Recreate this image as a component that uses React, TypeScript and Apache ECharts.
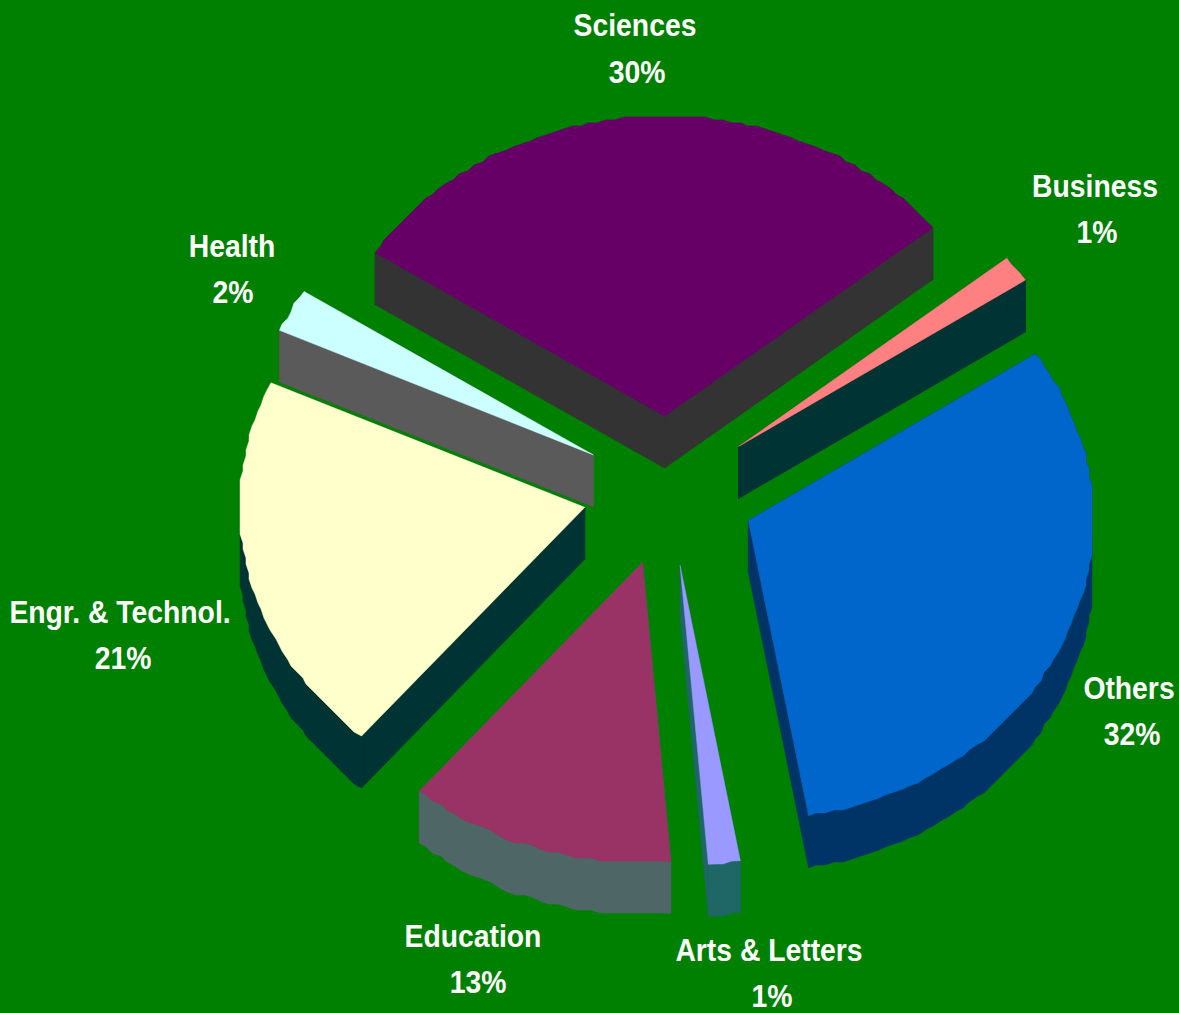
import React, { useEffect, useRef } from "react";
import * as echarts from "echarts";

const categories = ["Sciences", "Business", "Others", "Arts & Letters", "Education", "Engr. & Technol.", "Health"];
const shares = [30, 1.45, 31.55, 1.49, 12.5, 20.6, 2.35];
const topColors = ["#660066", "#FF8080", "#0066CC", "#9999FF", "#993366", "#FFFFCC", "#CCFFFF"];
const sideColors = ["#333333", "#003333", "#003366", "#1F6666", "#4F6666", "#003333", "#5A5A5A"];
const nameAnchors = [[635, 25], [1095, 186], [1129, 688], [769, 950], [473, 936], [120, 612], [232, 246]];
const pctAnchors = [[637, 72], [1097, 232], [1132, 734], [772, 996], [478, 982], [123, 658], [233, 292]];

const CX = 669, CY = 491, RX = 345, RY = 300, DEPTH = 52, EXPLODE = 0.25, START = -57;
const RIM_GRID = 3;
const BG = "#008000";
const total = shares.reduce((a, b) => a + b, 0);
const FONT = 'bold 32px "Liberation Sans", Arial, sans-serif';
const TEXT_SCALE_X = 0.885;

function renderItem(params: any, api: any) {
  const i = params.dataIndex;
  const value = api.value(0);
  const before = shares.slice(0, i).reduce((a, b) => a + b, 0);
  const a0 = START + (before / total) * 360;
  const a1 = a0 + (value / total) * 360;
  const mid = ((a0 + a1) / 2) * Math.PI / 180;
  const ax = CX + RX * EXPLODE * Math.sin(mid);
  const ay = CY - RY * EXPLODE * Math.cos(mid);
  const apex = [ax, ay];
  const arc: number[][] = [];
  const steps = Math.max(2, Math.ceil((a1 - a0) / 1.5));
  for (let k = 0; k <= steps; k++) {
    const t = (a0 + ((a1 - a0) * k) / steps) * Math.PI / 180;
    const x = ax + RX * Math.sin(t);
    const y = ay - RY * Math.cos(t);
    if (k === 0 || k === steps) arc.push([x, y]);
    else arc.push([Math.round(x / RIM_GRID) * RIM_GRID, Math.round(y / RIM_GRID) * RIM_GRID]);
  }
  const down = (p: number[]) => [p[0], p[1] + DEPTH];
  const first = arc[0];
  const last = arc[arc.length - 1];
  const side = sideColors[i];
  const sideStyle = { fill: side, stroke: side, lineWidth: 0.5 };
  const children: any[] = [
    { type: "polygon", shape: { points: [apex, first, down(first), down(apex)] }, style: sideStyle },
    { type: "polygon", shape: { points: [apex, last, down(last), down(apex)] }, style: sideStyle },
    { type: "polygon", shape: { points: [...arc, ...arc.slice().reverse().map(down)] }, style: sideStyle },
    {
      type: "polygon",
      shape: { points: [apex, ...arc] },
      style: { fill: topColors[i], stroke: topColors[i], lineWidth: 0.5 },
    },
  ];
  const textStyle = { fill: "#FFFFFF", font: FONT, align: "center", verticalAlign: "middle", x: 0, y: 0 };
  children.push({
    type: "text",
    x: nameAnchors[i][0],
    y: nameAnchors[i][1],
    scaleX: TEXT_SCALE_X,
    style: { ...textStyle, text: categories[i] },
  });
  children.push({
    type: "text",
    x: pctAnchors[i][0],
    y: pctAnchors[i][1],
    scaleX: TEXT_SCALE_X,
    style: { ...textStyle, text: `${Math.round(value)}%` },
  });
  return { type: "group", children };
}

export default function App() {
  const ref = useRef<HTMLDivElement>(null);
  useEffect(() => {
    document.body.style.margin = "0";
    document.body.style.background = BG;
    const chart = echarts.init(ref.current!, undefined, { renderer: "svg" });
    chart.setOption({
      animation: false,
      backgroundColor: BG,
      series: [
        {
          type: "custom",
          coordinateSystem: "none",
          silent: true,
          renderItem,
          data: shares.map((v, i) => ({ name: categories[i], value: [v] })),
        },
      ],
    });
    return () => chart.dispose();
  }, []);
  return <div ref={ref} style={{ width: 1179, height: 1013, overflow: "hidden" }} />;
}
